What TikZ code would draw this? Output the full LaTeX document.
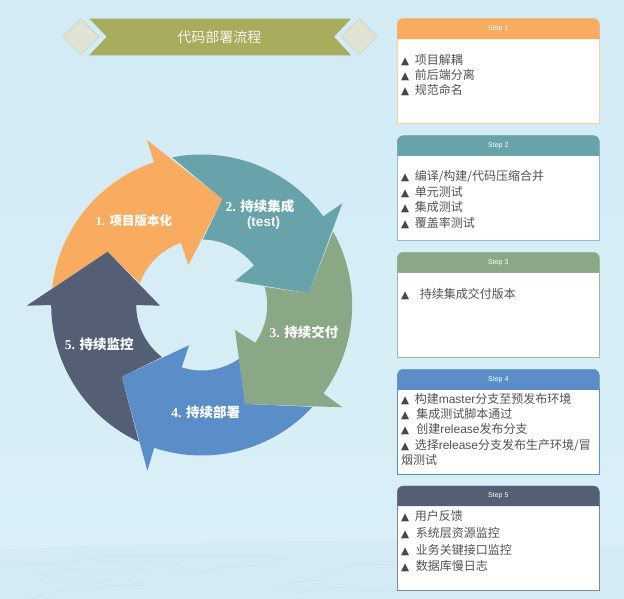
\documentclass[tikz,border=0pt]{standalone}
\usepackage{fontspec}
\setmainfont{Liberation Sans}
\newfontfamily\cjk{Noto Sans CJK SC}
\newfontfamily\trifont{DejaVu Sans}
\newfontfamily\numfont{Liberation Serif}
\usepackage{xcolor}
\usetikzlibrary{shapes.geometric, positioning}
\definecolor{stepa}{HTML}{F9AB5F}
\definecolor{stepb}{HTML}{68A3AB}
\definecolor{stepc}{HTML}{8AA885}
\definecolor{stepd}{HTML}{5B8EC8}
\definecolor{stepe}{HTML}{545F75}
\definecolor{bgtop}{HTML}{D2EBF5}
\definecolor{bglow}{HTML}{DAEFF7}
\definecolor{bgmap}{HTML}{D4EBF5}
\definecolor{mapline}{HTML}{CDE5F1}
\definecolor{bandcol}{HTML}{A8AD5E}
\definecolor{flagcol}{HTML}{E0E3D3}
\definecolor{flagedge}{HTML}{C9CEA3}
\newcommand{\tri}{{\trifont\fontsize{10.5}{10.5}\selectfont\textcolor{black!72}{▲}}\hspace{5.5pt}}
\newcommand{\lat}[1]{{\normalfont #1}}
\newcommand{\num}[1]{{\numfont\bfseries #1}}

\begin{document}
\begin{tikzpicture}[
  x=1pt, y=1pt,
  turnlbl/.style={font=\cjk\bfseries\fontsize{13.5}{15.3}\selectfont, text=white, align=center, inner sep=0pt},
  body/.style={rectangle, fill=white, line width=1pt, minimum width=202pt, inner sep=0pt, outer sep=0pt, anchor=north west},
  steplbl/.style={font=\fontsize{7}{8}\selectfont, text=white, inner sep=0pt},
  items/.style={anchor=north west, align=left, inner sep=0pt, text=black!68},
  flag/.style={diamond, draw=flagedge, fill=flagcol, inner sep=0pt, minimum width=36pt, minimum height=36pt}
]
\useasboundingbox (0,0) rectangle (624,599);

% backdrop
\shade[top color=bgtop, bottom color=bglow] (0,40) rectangle (624,599);
\fill[bgmap] (0,0) -- (0,49) .. controls (130,55) and (270,58) .. (400,58) .. controls (480,58) and (550,56) .. (624,52) -- (624,0) -- cycle;
\begin{scope}[shift={(0,99)}, x=0.3333pt, y=-0.3333pt, mapline, line width=0.6pt]
\draw (0,192) -- (40,185) -- (140,190) -- (220,183) -- (300,172) -- (860,172) -- (800,185) -- (770,198)
  -- (650,205) -- (550,222) -- (505,205) -- (530,190) -- (450,183) -- (370,185) -- (300,180) -- (230,178);
\draw (115,222) -- (160,212) -- (240,205) -- (440,205) -- (395,225) -- (430,250) -- (330,258)
  -- (285,245) -- (340,240) -- (180,240) -- cycle;
\draw (85,297) -- (170,275) -- (270,258) -- (340,262) -- (430,255);
\draw (815,285) -- (820,265) -- (900,262) -- (870,250) -- (960,240) -- (1000,215) -- (1060,197) -- (1160,193) -- (1200,200);
\draw (900,280) -- (950,265) -- (1040,262) -- (1100,275) -- (1200,270);
\end{scope}

% title band
\fill[bandcol] (89.3,580.3) -- (351,580.3) -- (334,562.3) -- (351,543.7) -- (89.3,543.7) -- (106.7,562.3) -- cycle;
\node[flag] (flagl) at (81,562.3) {};
\node[flag] (flagr) at (359.3,562.3) {};
\node[font=\cjk\fontsize{14}{16}\selectfont, text=flagcol!40!white, inner sep=0pt] (title) at (219.3,562.3) {代码部署流程};

% wheel
\begin{scope}[shift={(201.7,294)}]
\fill[stepa] (173.6:150.5) arc[start angle=173.6, end angle=108.5, radius=150.5]
  -- (-54.7,165) -- (20.7,105.7) -- (-13.3,40) -- (108.5:65.5)
  arc[start angle=108.5, end angle=160.6, radius=65.5] -- (-94,53.3) -- cycle;
\fill[stepb] (101.3:150.5) arc[start angle=101.3, end angle=36.1, radius=150.5]
  -- (140.7,101.7) -- (107.3,11.7) -- (33.3,24) -- (37:65.5)
  arc[start angle=37, end angle=89, radius=65.5] -- (20.7,105.7) -- cycle;
\fill[stepc] (29.2:150.5) arc[start angle=29.2, end angle=-36, radius=150.5]
  -- (140.7,-102.3) -- (43.3,-99) -- (33.3,-25) -- (-35.2:65.5)
  arc[start angle=-35.2, end angle=16.1, radius=65.5] -- (107.3,11.7) -- cycle;
\fill[stepd] (-42.6:150.5) arc[start angle=-42.6, end angle=-108.4, radius=150.5]
  -- (-54.3,-165.7) -- (-80,-71.7) -- (-12.7,-40.3) -- (-107.8:65.5)
  arc[start angle=-107.8, end angle=-55.3, radius=65.5] -- (43.3,-99) -- cycle;
\fill[stepe] (245.3:150.5) arc[start angle=245.3, end angle=180, radius=150.5]
  -- (-175,-0.7) -- (-94,53.3) -- (-41.7,-0.7) -- (180:65.5)
  arc[start angle=180, end angle=232.6, radius=65.5] -- (-80,-71.7) -- cycle;
\end{scope}

\node[turnlbl, font=\cjk\bfseries\fontsize{12.5}{15.3}\selectfont] (turna) at (134,378) {\num{1. }项目版本化};
\node[turnlbl] (turnb) at (260,384.5) {\num{2. }持续集成\\\hspace*{7pt}{\normalfont\bfseries (test)}};
\node[turnlbl] (turnc) at (304,266.3) {\num{3. }持续交付};
\node[turnlbl] (turnd) at (205.7,186.7) {\num{4. }持续部署};
\node[turnlbl] (turne) at (99.3,254.7) {\num{5. }持续监控};

% step cards
\node[body, draw=stepa!60!white, minimum height=84.7pt] (carda) at (397.3,560) {};
\draw[stepa, fill=stepa] (carda.north west) [rounded corners=6pt] -- ++(0,20.5) -- ++(202,0) [sharp corners] -- (carda.north east) -- cycle;
\node[steplbl] (heada) at ([yshift=10pt]carda.north) {Step 1};
\node[items, font=\cjk\fontsize{12}{14.9}\selectfont] (itema) at (401,545) {\tri 项目解耦\\\tri 前后端分离\\\tri 规范命名};

\node[body, draw=stepb!70!white, minimum height=84.6pt] (cardb) at (397.3,443.3) {};
\draw[stepb, fill=stepb] (cardb.north west) [rounded corners=6pt] -- ++(0,20) -- ++(202,0) [sharp corners] -- (cardb.north east) -- cycle;
\node[steplbl] (headb) at ([yshift=10pt]cardb.north) {Step 2};
\node[items, font=\cjk\fontsize{12}{15.4}\selectfont] (itemb) at (401,428.5) {\tri 编译/构建/代码压缩合并\\\tri 单元测试\\\tri 集成测试\\\tri 覆盖率测试};

\node[body, draw=stepc!80!white, minimum height=85pt] (cardc) at (397.3,326.7) {};
\draw[stepc, fill=stepc] (cardc.north west) [rounded corners=6pt] -- ++(0,20) -- ++(202,0) [sharp corners] -- (cardc.north east) -- cycle;
\node[steplbl] (headc) at ([yshift=10pt]cardc.north) {Step 3};
\node[items, font=\cjk\fontsize{12}{15}\selectfont] (itemc) at (401,311.3) {\tri\hspace{5pt}持续集成交付版本};

\node[body, draw=stepd, minimum height=85pt] (cardd) at (397.3,209.7) {};
\draw[stepd, fill=stepd] (cardd.north west) [rounded corners=6pt] -- ++(0,20) -- ++(202,0) [sharp corners] -- (cardd.north east) -- cycle;
\node[steplbl] (headd) at ([yshift=10pt]cardd.north) {Step 4};
\node[items, font=\cjk\fontsize{12}{15.3}\selectfont] (itemd) at (401,206) {\tri 构建\lat{master}分支至预发布环境\\\tri\hspace{1.5pt}集成测试脚本通过\\\tri\hspace{1.5pt}创建\lat{release}发布分支\\\tri 选择\lat{release}分支发布生产环境/冒\\烟测试};

\node[body, draw=stepe!75!white, minimum height=85pt] (carde) at (397.3,93) {};
\draw[stepe, fill=stepe] (carde.north west) [rounded corners=6pt] -- ++(0,20) -- ++(202,0) [sharp corners] -- (carde.north east) -- cycle;
\node[steplbl] (heade) at ([yshift=10pt]carde.north) {Step 5};
\node[items, font=\cjk\fontsize{12}{16.7}\selectfont] (iteme) at (401,88.5) {\tri 用户反馈\\\tri\hspace{1pt}系统层资源监控\\\tri\hspace{1pt}业务关键接口监控\\\tri\hspace{1pt}数据库慢日志};
\end{tikzpicture}
\end{document}
